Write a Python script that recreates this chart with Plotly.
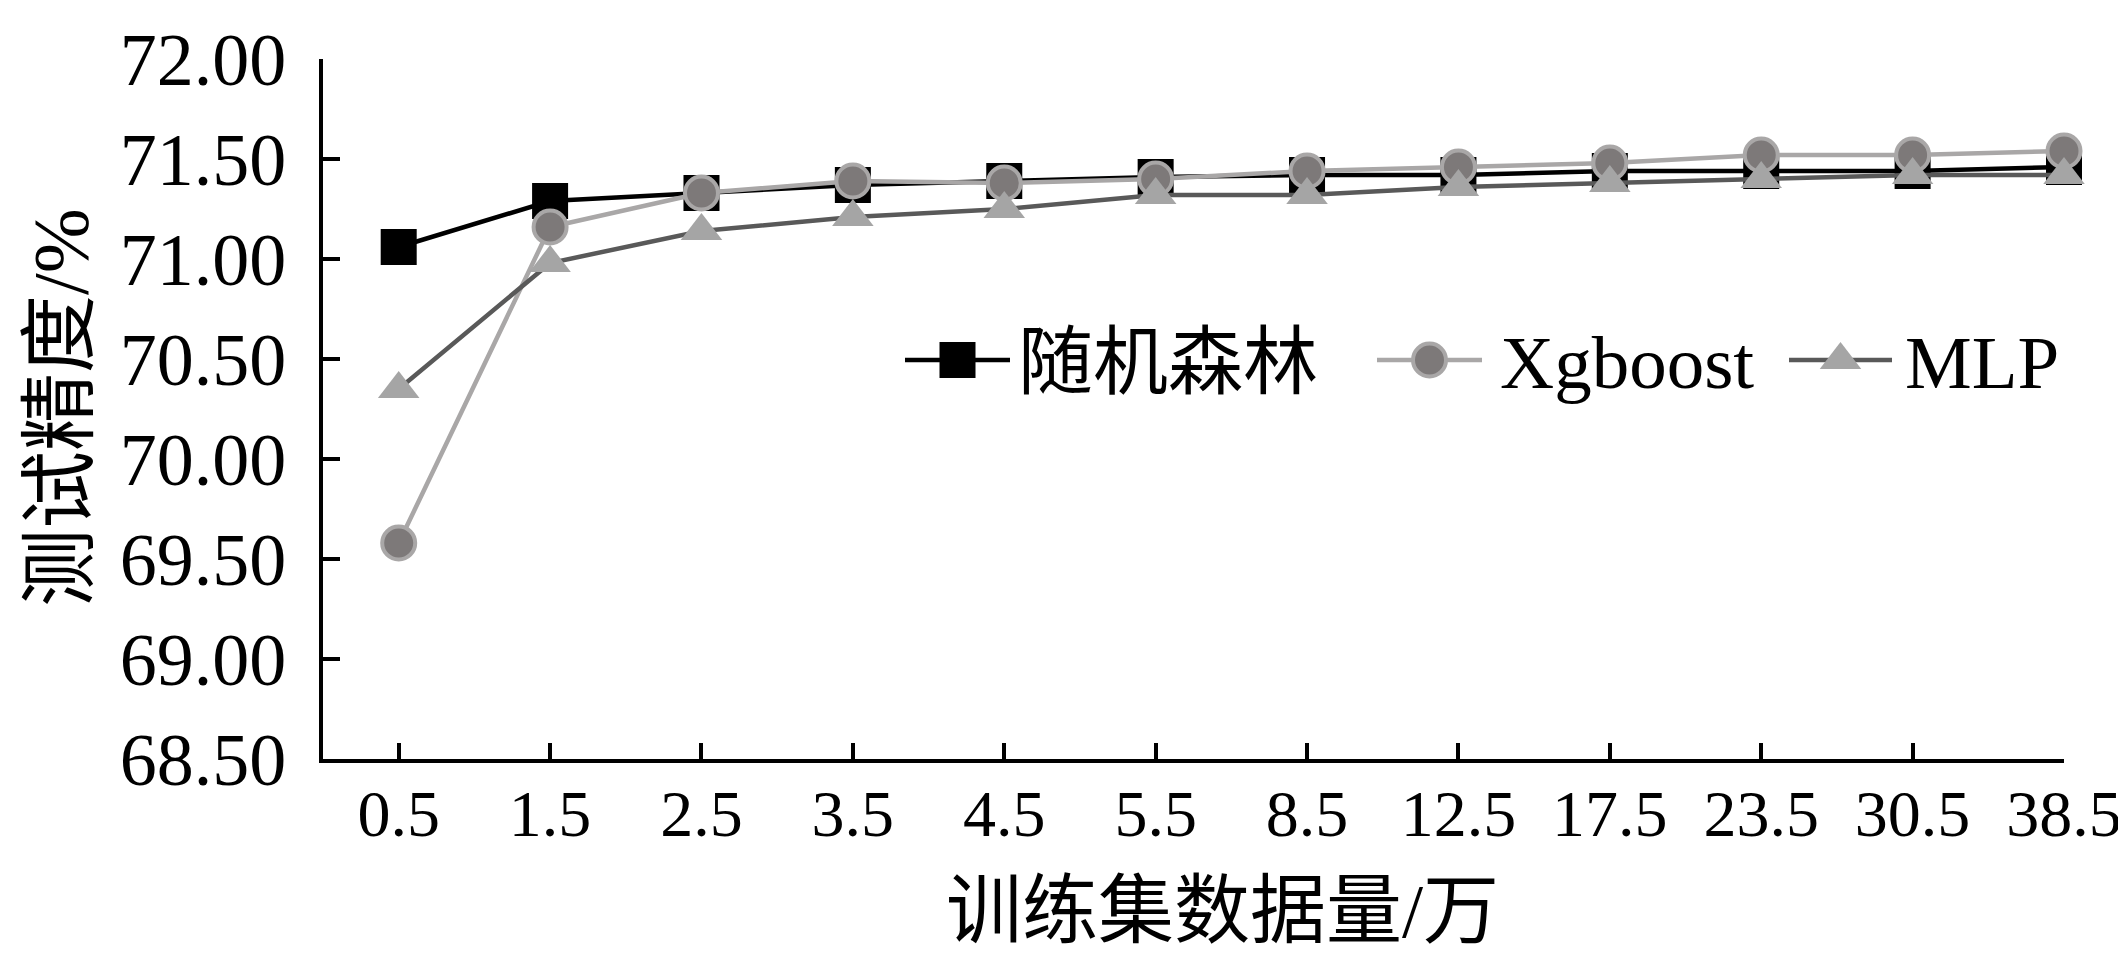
import plotly.graph_objects as go

# ---------------- data ----------------
categories = ["0.5", "1.5", "2.5", "3.5", "4.5", "5.5", "8.5", "12.5", "17.5", "23.5", "30.5", "38.5"]
rf_acc = [71.06, 71.29, 71.33, 71.37, 71.39, 71.41, 71.42, 71.42, 71.44, 71.44, 71.44, 71.46]
xgb_acc = [69.58, 71.16, 71.33, 71.39, 71.38, 71.40, 71.44, 71.46, 71.48, 71.52, 71.52, 71.54]
mlp_acc = [70.35, 70.98, 71.14, 71.21, 71.25, 71.32, 71.32, 71.36, 71.38, 71.40, 71.42, 71.42]
series_names = ["随机森林", "Xgboost", "MLP"]
y_tick_vals = [68.5, 69.0, 69.5, 70.0, 70.5, 71.0, 71.5, 72.0]
x_title = "训练集数据量/万"
y_title = "测试精度/%"

# ---------------- layout geometry (px) ----------------
W, H = 2126, 958
L, R, T, B = 315, 2056, 51, 751
SERIF = "Liberation Serif, Times New Roman, Noto Sans CJK SC"


def px_x(p):
    return (p - L) / (R - L)


def px_y(p):
    return (B - p) / (B - T)


styles = [
    dict(line=dict(color="#000000", width=4.5),
         marker=dict(symbol="square", size=36, color="#000000", line=dict(width=0))),
    dict(line=dict(color="#A9A7A7", width=4.5),
         marker=dict(symbol="circle", size=33, color="#7D7979", line=dict(width=4, color="#A9A7A7"))),
    dict(line=dict(color="#595959", width=4.5),
         marker=dict(symbol="triangle-up", size=36, color="#A5A5A5", line=dict(width=0))),
]
series_vals = [rf_acc, xgb_acc, mlp_acc]

fig = go.Figure()
for name, vals, st in zip(series_names, series_vals, styles):
    fig.add_trace(go.Scatter(
        x=categories, y=vals, mode="lines+markers", name=name,
        line=st["line"], marker=st["marker"], cliponaxis=False, showlegend=False,
    ))

# ---------------- manual legend ----------------
legend_y = 352
legend_items = [  # (line x0, line x1, text x)
    (897, 1002, 1008),
    (1369, 1474, 1490),
    (1781, 1884, 1895),
]
for (x0, x1, tx), name, st in zip(legend_items, series_names, styles):
    fig.add_trace(go.Scatter(
        x=[px_x(x0), px_x(x1)], y=[px_y(legend_y)] * 2, mode="lines",
        line=dict(color=st["line"]["color"], width=4.5),
        xaxis="x2", yaxis="y2", showlegend=False, cliponaxis=False, hoverinfo="skip",
    ))
    fig.add_trace(go.Scatter(
        x=[px_x((x0 + x1) / 2)], y=[px_y(legend_y)], mode="markers",
        marker=st["marker"], xaxis="x2", yaxis="y2", showlegend=False,
        cliponaxis=False, hoverinfo="skip",
    ))
    fig.add_annotation(
        x=px_x(tx), y=px_y(legend_y + 2), xref="paper", yref="paper",
        text=name, showarrow=False, xanchor="left", yanchor="middle",
        font=dict(family=SERIF, size=75, color="#000000"),
    )

# ---------------- axis titles ----------------
fig.add_annotation(
    x=px_x(1214), y=px_y(903), xref="paper", yref="paper", text=x_title,
    showarrow=False, xanchor="center", yanchor="middle",
    font=dict(family=SERIF, size=76, color="#000000"),
)
fig.add_annotation(
    x=px_x(52), y=px_y(400), xref="paper", yref="paper", text=y_title,
    showarrow=False, xanchor="center", yanchor="middle", textangle=-90,
    font=dict(family=SERIF, size=78, color="#000000"),
)

fig.update_layout(
    width=W, height=H,
    margin=dict(l=L, r=W - R, t=T, b=H - B, autoexpand=False),
    paper_bgcolor="white", plot_bgcolor="white",
    showlegend=False,
    xaxis=dict(
        type="category", categoryorder="array", categoryarray=categories,
        range=[-0.5, 11], showgrid=False, zeroline=False,
        showline=True, linecolor="#000000", linewidth=4,
        ticks="inside", ticklen=16, tickwidth=3.5, tickcolor="#000000",
        tickfont=dict(family=SERIF, size=66, color="#000000"),
        ticklabelstandoff=-6,
    ),
    yaxis=dict(
        range=[68.5, 72.0], tickvals=y_tick_vals, tickformat=".2f",
        showgrid=False, zeroline=False,
        showline=True, linecolor="#000000", linewidth=4,
        ticks="inside", ticklen=17, tickwidth=4, tickcolor="#000000",
        tickfont=dict(family=SERIF, size=74, color="#000000"),
        ticklabelstandoff=18,
    ),
    xaxis2=dict(overlaying="x", range=[0, 1], visible=False, anchor="y2"),
    yaxis2=dict(overlaying="y", range=[0, 1], visible=False, anchor="x2"),
)

fig.write_html("out.html")
